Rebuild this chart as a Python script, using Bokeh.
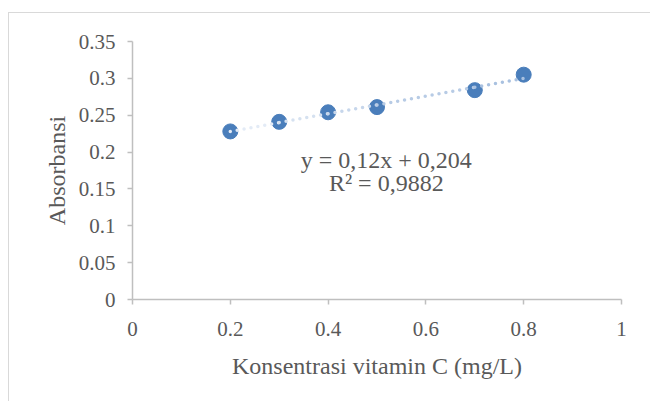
import numpy as np
from bokeh.plotting import figure
from bokeh.models import Range1d, FixedTicker, Label, CustomJSTickFormatter
from bokeh.embed import file_html
from bokeh.resources import INLINE

# data
konsentrasi = [0.2, 0.3, 0.4, 0.5, 0.7, 0.8]
absorbansi = [0.228, 0.241, 0.254, 0.261, 0.284, 0.305]
x_ticks = [0, 0.2, 0.4, 0.6, 0.8, 1]
y_ticks = [0, 0.05, 0.1, 0.15, 0.2, 0.25, 0.3, 0.35]
slope = 0.12
intercept = 0.204
eq_text = "y = 0,12x + 0,204"
r2_text = "R² = 0,9882"

FONT = "Liberation Serif"
TXT = "#595959"
AX = "#bfbfbf"

p = figure(width=642, height=389, output_backend="svg", toolbar_location=None,
           x_range=Range1d(0, 1), y_range=Range1d(0, 0.35),
           min_border_left=123, min_border_right=30, min_border_top=28, min_border_bottom=103)
p.margin = (13, 0, 0, 9)
p.styles = {"box-shadow": "-1px -1px 0 0 #d9d9d9"}
p.outline_line_color = None
p.xgrid.visible = False
p.ygrid.visible = False

for ax in (p.xaxis[0], p.yaxis[0]):
    ax.axis_line_color = AX
    ax.axis_line_width = 1.5
    ax.major_tick_line_color = AX
    ax.major_tick_line_width = 1.5
    ax.major_tick_in = 0
    ax.major_tick_out = 5
    ax.minor_tick_line_color = None
    ax.major_label_text_font = FONT
    ax.major_label_text_font_size = "21px"
    ax.major_label_text_color = TXT
    ax.axis_label_text_font = FONT
    ax.axis_label_text_font_size = "24px"
    ax.axis_label_text_color = TXT
    ax.axis_label_text_font_style = "normal"

p.xaxis.ticker = FixedTicker(ticks=x_ticks)
p.yaxis.ticker = FixedTicker(ticks=y_ticks)
p.xaxis.formatter = CustomJSTickFormatter(code="return String(Math.round(tick*100)/100);")
p.yaxis.formatter = CustomJSTickFormatter(code="return String(Math.round(tick*100)/100);")
p.xaxis.axis_label = "Konsentrasi vitamin C (mg/L)"
p.yaxis.axis_label = "Absorbansi"
p.xaxis.major_label_standoff = 17
p.yaxis.major_label_standoff = 12
p.xaxis.axis_label_standoff = 14
p.yaxis.axis_label_standoff = 6

p.scatter(konsentrasi, absorbansi, size=15, fill_color="#4a7ebb", line_color="#4a7ebb")

# trendline, evaluated at the data x values, with a light-to-darker gradient
xs = np.array(konsentrasi)
ys = slope * xs + intercept
colors = ["#e3ebf6", "#d5e1f0", "#c6d6eb", "#b7cbe5", "#a9c1e0"]
for i in range(len(xs) - 1):
    p.line([xs[i], xs[i + 1]], [ys[i], ys[i + 1]], line_color=colors[i],
           line_width=3.5, line_dash="0 7", line_cap="round")

p.add_layout(Label(x=0.519, y=0.1886, text=eq_text, text_align="center",
                   text_baseline="alphabetic", text_font=FONT,
                   text_font_size="24px", text_color=TXT))
p.add_layout(Label(x=0.519, y=0.1574, text=r2_text, text_align="center",
                   text_baseline="alphabetic", text_font=FONT,
                   text_font_size="24px", text_color=TXT))

open("out.html", "w").write(file_html(p, INLINE))
